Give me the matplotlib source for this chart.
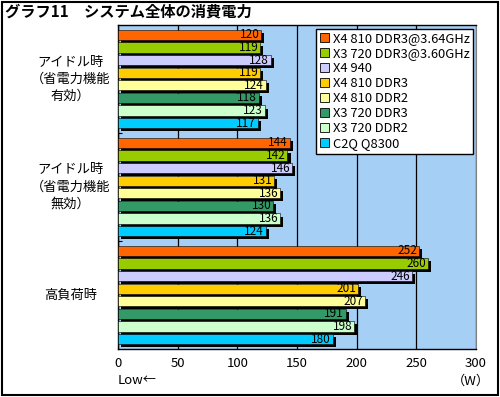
import numpy as np
import matplotlib
matplotlib.use('Agg')
import matplotlib.pyplot as plt
import matplotlib.patheffects as pe
from matplotlib.patches import Rectangle
from matplotlib.transforms import blended_transform_factory

plt.rcParams['font.family'] = ['Noto Sans CJK JP', 'DejaVu Sans']

#### DATA
categories = ['アイドル時\n（省電力機能\n有効）', 'アイドル時\n（省電力機能\n無効）', '高負荷時']
series = ['X4 810 DDR3@3.64GHz', 'X3 720 DDR3@3.60GHz', 'X4 940', 'X4 810 DDR3',
          'X4 810 DDR2', 'X3 720 DDR3', 'X3 720 DDR2', 'C2Q Q8300']
values = np.array([
    [120, 144, 252],
    [119, 142, 260],
    [128, 146, 246],
    [119, 131, 201],
    [124, 136, 207],
    [118, 130, 191],
    [123, 136, 198],
    [117, 124, 180],
])
colors = ['#FF6600', '#99CC00', '#CCCCFF', '#FFCC00', '#FFFF99', '#339966', '#CCFFCC', '#00CCFF']
xticks = [0, 50, 100, 150, 200, 250, 300]

#### PLOT
fig = plt.figure(figsize=(5.0, 3.97), dpi=100)
ax = fig.add_axes([0.236, 0.121, 0.716, 0.816])
ax.set_facecolor('#A6CFF5')

pitch = 0.1167
bar_h = pitch * 0.8
y_base = np.arange(len(categories))
shadow = [pe.SimplePatchShadow(offset=(2.2, -2.2), shadow_rgbFace='k', alpha=1.0), pe.Normal()]
for i, (name, col) in enumerate(zip(series, colors)):
    ypos = y_base + (i - 3.5) * pitch
    bars = ax.barh(ypos, values[i], height=bar_h, color=col, edgecolor='k', linewidth=0.4,
                   label=name, zorder=3, path_effects=shadow)
    for y, v in zip(ypos, values[i]):
        ax.text(v - 1.5, y, str(v), ha='right', va='center', fontsize=8.5, zorder=4)

ax.set_xlim(0, 300)
ax.set_ylim(2.5, -0.5)
ax.set_xticks(xticks)
ax.set_xticklabels([str(t) for t in xticks], fontsize=9.5)
ax.tick_params(axis='x', length=0, pad=6)
ax.set_yticks([])
ax.set_yticks([0.5, 1.5], minor=True)
ax.tick_params(axis='y', which='minor', direction='in', length=3, width=0.8)
ax.grid(axis='x', color='k', linewidth=0.9, zorder=1)
ax.set_axisbelow(True)
for s in ['left', 'bottom', 'top']:
    ax.spines[s].set_color('k')
    ax.spines[s].set_linewidth(1.0)
ax.spines['right'].set_color('#808080')

tr = blended_transform_factory(ax.transAxes, ax.transData)
for y, lab in zip(y_base, categories):
    ax.text(-0.133, y, lab, transform=tr, ha='center', va='center', fontsize=9.5, linespacing=1.4)

leg = ax.legend(loc='upper right', bbox_to_anchor=(1.0, 0.997), fontsize=9.3, frameon=True,
                fancybox=False, edgecolor='k', framealpha=1, handlelength=0.7, handleheight=0.7,
                handletextpad=0.3, labelspacing=0.15, borderpad=0.3, borderaxespad=0.2)
leg.get_frame().set_linewidth(1.0)
for h in leg.legend_handles:
    h.set_path_effects([])
    h.set_edgecolor('k')
    h.set_linewidth(0.6)

fig.text(118 / 500, 1 - 381 / 397, 'Low←', ha='left', va='center', fontsize=9.5)
fig.text(490 / 500, 1 - 381 / 397, '（W）', ha='right', va='center', fontsize=9.5)
fig.text(5 / 500, 1 - 12 / 397, 'グラフ11　システム全体の消費電力', ha='left', va='center',
         fontsize=11, fontweight='bold')
fig.add_artist(Rectangle((0.003, 0.004), 0.993, 0.992, transform=fig.transFigure,
                         fill=False, edgecolor='k', linewidth=1.5))

plt.savefig('out.png', dpi=100)
